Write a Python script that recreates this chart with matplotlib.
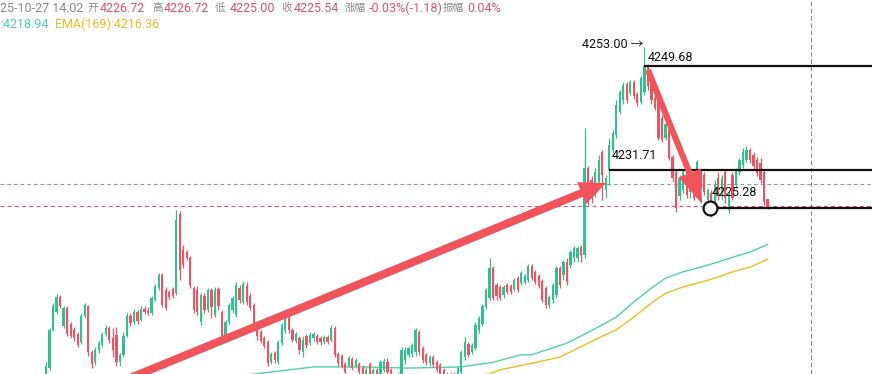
import matplotlib
matplotlib.use("Agg")
import matplotlib.pyplot as plt
import numpy as np

plt.rcParams['font.family'] = ['Roboto', 'Noto Sans CJK SC', 'DejaVu Sans']

# ---- candle data (price), one entry per bar ----
opens = [
    4195.5, 4197.6, 4204.2, 4207.3, 4209.9, 4204.9, 4208.0, 4205.2, 4204.2, 4203.5,
    4202.1, 4206.6, 4208.3, 4200.4, 4198.6, 4200.7, 4201.6, 4203.5, 4204.5, 4202.8,
    4203.3, 4198.6, 4199.9, 4203.1, 4206.6, 4205.5, 4207.3, 4205.9, 4207.8, 4207.4,
    4207.1, 4209.3, 4211.4, 4213.6, 4211.1, 4210.7, 4211.2, 4210.5, 4224.2, 4218.0,
    4217.6, 4216.6, 4211.4, 4211.1, 4205.5, 4210.0, 4207.6, 4211.1, 4206.8, 4211.2,
    4207.3, 4202.8, 4205.5, 4207.6, 4206.8, 4211.4, 4209.0, 4211.7, 4210.0, 4208.5,
    4204.9, 4203.8, 4202.8, 4202.1, 4198.6, 4200.2, 4198.6, 4201.9, 4204.2, 4206.2,
    4204.2, 4202.3, 4202.8, 4200.4, 4203.1, 4201.9, 4202.8, 4203.1, 4202.8, 4202.1,
    4203.0, 4202.4, 4204.5, 4200.0, 4199.7, 4198.3, 4198.0, 4199.2, 4198.0, 4198.3,
    4197.6, 4195.9, 4198.3, 4196.2, 4197.3, 4196.6, 4197.3, 4198.6, 4197.3, 4195.9,
    4194.9, 4196.2, 4199.0, 4199.9, 4200.0, 4200.4, 4203.8, 4201.1, 4199.9, 4198.5,
    4199.5, 4198.6, 4198.1, 4197.3, 4195.2, 4196.4, 4194.9, 4195.5, 4196.9, 4199.5,
    4201.7, 4200.4, 4201.1, 4204.2, 4205.2, 4208.1, 4209.7, 4214.9, 4211.9, 4211.6,
    4210.2, 4211.9, 4211.7, 4211.2, 4213.1, 4212.3, 4212.4, 4212.8, 4215.2, 4214.2,
    4213.5, 4212.6, 4211.4, 4208.5, 4209.3, 4210.2, 4214.9, 4213.6, 4215.9, 4215.4,
    4216.6, 4216.6, 4218.5, 4217.1, 4232.1, 4230.0, 4227.4, 4229.7, 4234.9, 4228.3,
    4231.71, 4235.2, 4237.8, 4241.8, 4243.8, 4246.6, 4245.0, 4246.9, 4244.9, 4243.5,
    4245.2, 4249.68, 4247.3, 4244.2, 4243.8, 4240.7, 4237.3, 4239.2, 4234.0, 4231.4,
    4227.3, 4228.3, 4231.4, 4228.0, 4228.3, 4231.4, 4231.4, 4230.9, 4226.6, 4227.8,
    4225.7, 4230.4, 4227.4, 4231.4, 4224.9, 4230.9, 4229.2, 4231.4, 4232.6, 4233.5,
    4235.2, 4234.3, 4233.5, 4233.0, 4231.4, 4226.72,
]
highs = [
    4198.6, 4204.5, 4208.8, 4210.4, 4210.2, 4208.3, 4208.3, 4205.5, 4204.7, 4203.8,
    4207.1, 4208.8, 4208.5, 4200.7, 4201.2, 4202.4, 4203.8, 4205.0, 4204.9, 4204.5,
    4204.7, 4200.2, 4203.8, 4207.1, 4207.1, 4207.8, 4207.6, 4208.3, 4208.3, 4208.1,
    4210.0, 4212.1, 4214.0, 4214.0, 4211.6, 4211.1, 4211.6, 4224.9, 4224.7, 4218.8,
    4218.0, 4216.9, 4211.7, 4211.7, 4210.5, 4210.5, 4211.4, 4211.4, 4211.6, 4211.6,
    4207.6, 4205.9, 4208.8, 4210.0, 4212.4, 4211.9, 4212.6, 4212.4, 4210.5, 4208.8,
    4205.2, 4204.2, 4203.1, 4202.4, 4200.4, 4200.5, 4202.4, 4205.4, 4206.4, 4206.6,
    4204.5, 4203.8, 4203.1, 4203.1, 4203.5, 4203.8, 4203.8, 4203.5, 4203.1, 4203.3,
    4203.3, 4205.0, 4204.9, 4200.4, 4200.0, 4198.6, 4199.7, 4199.5, 4199.3, 4198.6,
    4198.1, 4197.8, 4198.6, 4197.6, 4197.6, 4199.0, 4199.3, 4199.3, 4197.6, 4196.4,
    4196.9, 4201.2, 4201.2, 4201.4, 4201.9, 4204.5, 4204.2, 4201.4, 4200.2, 4199.9,
    4199.9, 4199.0, 4198.5, 4197.6, 4196.9, 4196.9, 4196.9, 4198.0, 4200.7, 4203.0,
    4202.1, 4201.9, 4205.5, 4206.6, 4208.6, 4211.4, 4216.6, 4215.2, 4212.3, 4211.9,
    4211.9, 4212.3, 4212.1, 4213.1, 4213.5, 4214.3, 4213.8, 4215.5, 4215.5, 4214.5,
    4213.8, 4213.0, 4211.7, 4210.2, 4212.3, 4215.2, 4215.2, 4216.2, 4216.6, 4218.0,
    4218.6, 4218.6, 4218.8, 4239.0, 4232.4, 4230.7, 4232.1, 4234.3, 4235.2, 4230.9,
    4237.3, 4238.6, 4243.8, 4245.5, 4246.9, 4246.9, 4247.3, 4247.3, 4245.2, 4248.0,
    4253.0, 4250.0, 4247.6, 4244.7, 4244.2, 4241.2, 4240.0, 4239.5, 4234.3, 4231.8,
    4230.9, 4231.8, 4231.8, 4229.7, 4228.6, 4233.5, 4231.8, 4231.4, 4228.6, 4228.3,
    4230.0, 4231.4, 4230.9, 4231.8, 4228.0, 4231.4, 4232.1, 4233.8, 4235.5, 4235.9,
    4235.5, 4234.9, 4234.0, 4233.8, 4231.8, 4226.72,
]
lows = [
    4194.7, 4197.3, 4204.0, 4206.9, 4208.0, 4204.5, 4203.1, 4202.8, 4202.3, 4201.2,
    4201.7, 4206.2, 4199.7, 4197.6, 4198.1, 4200.2, 4201.2, 4203.1, 4201.9, 4199.5,
    4198.0, 4198.0, 4199.5, 4203.0, 4204.9, 4205.2, 4205.2, 4205.7, 4206.9, 4206.8,
    4206.8, 4209.2, 4211.1, 4208.1, 4207.6, 4209.5, 4209.7, 4210.2, 4212.8, 4214.9,
    4216.2, 4211.4, 4207.1, 4206.8, 4205.0, 4207.1, 4207.3, 4206.2, 4206.4, 4207.6,
    4202.1, 4202.3, 4205.2, 4207.1, 4206.4, 4208.8, 4208.6, 4208.5, 4207.6, 4204.0,
    4202.4, 4201.9, 4201.1, 4198.0, 4198.3, 4198.5, 4198.3, 4201.6, 4203.6, 4203.6,
    4202.1, 4201.9, 4200.0, 4199.5, 4201.1, 4201.6, 4202.3, 4201.7, 4201.6, 4201.7,
    4201.7, 4202.1, 4199.5, 4198.0, 4197.6, 4196.4, 4197.6, 4197.3, 4197.6, 4196.4,
    4194.9, 4195.2, 4195.5, 4195.5, 4195.2, 4195.9, 4196.9, 4195.9, 4194.9, 4193.5,
    4193.8, 4195.9, 4198.3, 4199.5, 4199.5, 4199.7, 4199.9, 4198.5, 4198.1, 4198.0,
    4197.8, 4196.9, 4196.2, 4195.0, 4194.7, 4194.5, 4194.2, 4195.2, 4196.4, 4199.0,
    4199.5, 4200.0, 4200.7, 4203.6, 4204.9, 4207.8, 4209.3, 4209.3, 4209.3, 4209.3,
    4209.7, 4210.4, 4210.4, 4210.9, 4210.7, 4211.9, 4212.1, 4212.4, 4212.8, 4212.1,
    4211.4, 4209.0, 4208.0, 4208.0, 4208.8, 4209.7, 4211.4, 4212.8, 4211.9, 4214.9,
    4215.9, 4215.9, 4215.9, 4216.6, 4225.7, 4226.1, 4227.1, 4229.2, 4226.6, 4226.9,
    4229.2, 4234.7, 4237.3, 4241.4, 4243.1, 4243.3, 4244.7, 4244.0, 4242.8, 4243.1,
    4244.7, 4245.5, 4243.1, 4242.1, 4236.9, 4236.6, 4236.9, 4233.5, 4229.7, 4224.5,
    4226.6, 4227.8, 4226.9, 4226.9, 4226.6, 4230.9, 4228.6, 4227.4, 4225.7, 4223.6,
    4225.2, 4226.6, 4226.6, 4226.1, 4224.3, 4226.6, 4228.6, 4230.9, 4232.1, 4233.1,
    4233.0, 4231.8, 4230.7, 4229.5, 4225.5, 4225.00,
]
closes = [
    4198.0, 4204.2, 4208.3, 4209.9, 4208.3, 4208.0, 4203.5, 4203.1, 4202.8, 4201.6,
    4206.6, 4208.5, 4200.4, 4198.3, 4200.7, 4201.9, 4203.5, 4204.5, 4202.4, 4200.7,
    4198.6, 4199.9, 4203.1, 4206.6, 4205.4, 4207.3, 4205.7, 4207.8, 4207.3, 4207.1,
    4209.7, 4211.7, 4213.6, 4208.5, 4208.0, 4209.9, 4210.0, 4223.1, 4214.5, 4215.4,
    4216.6, 4211.9, 4207.6, 4207.3, 4210.2, 4207.6, 4211.1, 4208.1, 4211.1, 4208.3,
    4202.4, 4205.5, 4208.5, 4209.7, 4211.9, 4209.3, 4212.1, 4209.0, 4208.0, 4204.5,
    4203.1, 4202.3, 4201.4, 4198.5, 4200.0, 4199.0, 4202.1, 4205.0, 4206.1, 4204.2,
    4202.4, 4203.5, 4200.7, 4202.4, 4201.6, 4203.3, 4203.5, 4202.1, 4202.1, 4203.0,
    4202.1, 4204.5, 4199.9, 4198.5, 4198.0, 4196.9, 4199.3, 4197.6, 4199.0, 4196.9,
    4195.5, 4197.3, 4196.2, 4197.3, 4195.9, 4198.6, 4198.8, 4196.9, 4195.5, 4194.2,
    4196.2, 4200.7, 4200.7, 4201.1, 4201.6, 4204.2, 4200.4, 4199.0, 4198.6, 4199.5,
    4198.1, 4197.3, 4196.6, 4195.5, 4196.4, 4195.2, 4196.2, 4197.6, 4200.4, 4202.1,
    4199.9, 4201.6, 4205.0, 4206.2, 4208.3, 4211.1, 4214.9, 4209.7, 4210.0, 4209.7,
    4211.6, 4210.7, 4210.7, 4212.8, 4211.1, 4214.0, 4213.5, 4215.2, 4213.1, 4212.4,
    4211.7, 4209.3, 4208.5, 4209.9, 4211.9, 4214.9, 4211.9, 4215.9, 4212.4, 4217.6,
    4218.3, 4218.3, 4217.1, 4232.1, 4227.4, 4227.4, 4231.4, 4233.5, 4230.9, 4230.4,
    4236.1, 4238.1, 4243.0, 4245.2, 4246.4, 4243.8, 4246.9, 4244.5, 4243.3, 4247.6,
    4249.68, 4246.2, 4243.8, 4242.4, 4237.3, 4236.9, 4239.7, 4233.8, 4230.4, 4225.2,
    4230.4, 4231.4, 4227.4, 4229.2, 4226.9, 4233.1, 4229.2, 4228.0, 4228.3, 4225.2,
    4229.2, 4227.3, 4230.4, 4226.9, 4227.6, 4226.9, 4231.8, 4233.5, 4234.9, 4235.2,
    4233.5, 4232.4, 4231.2, 4230.0, 4226.2, 4225.54,
]

# ---- moving averages (bar index, value) ----
ema_a_idx = [44, 61, 76, 90, 103, 118, 127, 135, 138, 148, 157, 162, 167, 172, 176, 181, 186, 191, 195, 200, 205]
ema_a_val = [4195.5, 4196.7, 4197.8, 4197.8, 4197.6, 4197.8, 4198.6, 4199.9, 4199.9, 4201.9, 4204.7,
             4206.4, 4209.0, 4211.4, 4213.1, 4214.2, 4215.0, 4215.9, 4216.7, 4217.6, 4218.94]
ema_b_idx = [120, 126, 129, 137, 146, 157, 162, 167, 172, 176, 181, 186, 191, 195, 200, 205]
ema_b_val = [4195.9, 4196.6, 4197.3, 4198.3, 4199.5, 4202.8, 4204.2, 4206.4, 4208.8, 4210.5,
             4211.6, 4212.4, 4213.3, 4214.2, 4215.0, 4216.36]

# ---- drawn annotations ----
level_high, level_high_idx = 4249.68, 170
level_mid, level_mid_idx = 4231.71, 160
level_low, level_low_idx = 4225.28, 188.6
peak_price, peak_idx = 4253.00, 170
cross_price, cross_idx = 4229.25, 217.2
arrow1 = ((23.9, 4195.9), (159.1, 4229.5))
arrow2 = ((171.0, 4249.0), (186.4, 4225.9))

GREEN = '#33C08F'
RED = '#EA5560'
ARROW = '#F0545A'
TEAL = '#4CD3AE'
YELLOW = '#F5B71F'

W, H = 872, 374
fig = plt.figure(figsize=(W / 100, H / 100), dpi=100)
ax = fig.add_axes([0, 0, 1, 1])
x0, dx = 46, 3.52
ax.set_xlim(-x0 / dx, (W - x0) / dx)
ax.set_ylim(4261.06 - H / 5.8, 4261.06)
ax.axis('off')

o = np.array(opens); c = np.array(closes); hi = np.array(highs); lo = np.array(lows)
idx = np.arange(len(o))
col = np.where(c >= o, GREEN, RED)

ax.vlines(idx, lo, hi, colors=col, linewidth=0.9, zorder=3)
body = np.maximum(np.abs(c - o), 0.18)
ax.bar(idx, body, bottom=np.minimum(o, c), width=0.64, color=col, linewidth=0, zorder=3)

ax.plot(ema_a_idx, ema_a_val, color=TEAL, lw=1.0, zorder=2)
ax.plot(ema_b_idx, ema_b_val, color=YELLOW, lw=1.0, zorder=2)

xmax = ax.get_xlim()[1]
# crosshair and last price lines
ax.axhline(cross_price, color='#9a9a9a', lw=0.8, dashes=(3.5, 2.5), zorder=1)
ax.axvline(cross_idx, color='#8c8c8c', lw=0.8, dashes=(4, 2.5), zorder=1)
ax.axhline(closes[-1], color='#D9507A', lw=0.8, dashes=(3.5, 3), zorder=1)

# drawn levels
ax.hlines([level_high, level_mid, level_low], [level_high_idx, level_mid_idx, level_low_idx], xmax,
          colors='#111111', lw=1.6, zorder=5)
ax.plot([level_low_idx], [level_low], marker='o', ms=10, mfc='white', mec='#111111', mew=1.6, zorder=6)

fs = 9
ax.text(peak_idx - 0.2, peak_price + 0.4, f'{peak_price:.2f} \u2192', ha='right', va='center', fontsize=fs,
        color='#111111', zorder=6)
ax.text(peak_idx + 1.0, 4251.2, f'{level_high:.2f}', ha='left', va='center', fontsize=fs, color='#111111', zorder=6)
ax.text(level_mid_idx + 0.6, 4234.2, f'{level_mid:.2f}', ha='left', va='center', fontsize=fs, color='#111111', zorder=6)
ax.text(level_low_idx + 0.5, 4227.8, f'{level_low:.2f}', ha='left', va='center', fontsize=fs, color='#111111', zorder=6)

# arrows
for (xa, ya), (xb, yb), tw, hw, hl in [(arrow1[0], arrow1[1], 0.29, 0.85, 0.95),
                                         (arrow2[0], arrow2[1], 0.22, 0.85, 1.2)]:
    ax.annotate('', xy=(xb, yb), xytext=(xa, ya),
                arrowprops=dict(arrowstyle=f'simple,head_length={hl},head_width={hw},tail_width={tw}',
                                color=ARROW, shrinkA=0, shrinkB=0, mutation_scale=20, lw=0),
                zorder=7, annotation_clip=False)

# header text
GREY = '#8a8a8a'
VAL = '#E0546B'
line1 = [(0, '25-10-27 14:02', GREY, fs), (87, '开', GREY, 7.6), (100, '4226.72', VAL, fs),
         (152, '高', GREY, 7.6), (164, '4226.72', VAL, fs), (215, '低', GREY, 7.6),
         (230, '4225.00', VAL, fs), (281, '收', GREY, 7.6), (294, '4225.54', VAL, fs),
         (345, '涨幅', GREY, 7.6), (369, '-0.03%(-1.18)', VAL, fs), (443, '振幅', GREY, 7.6),
         (467, '0.04%', VAL, fs)]
for px, s, cl, size in line1:
    fig.text(px / W, 1 - 8 / H, s, ha='left', va='center', fontsize=size, color=cl)
fig.text(0 / W, 1 - 24 / H, ':4218.94', ha='left', va='center', fontsize=fs, color=TEAL)
fig.text(55 / W, 1 - 24 / H, 'EMA(169):4216.36', ha='left', va='center', fontsize=fs, color=YELLOW)

fig.savefig('out.png', dpi=100)
